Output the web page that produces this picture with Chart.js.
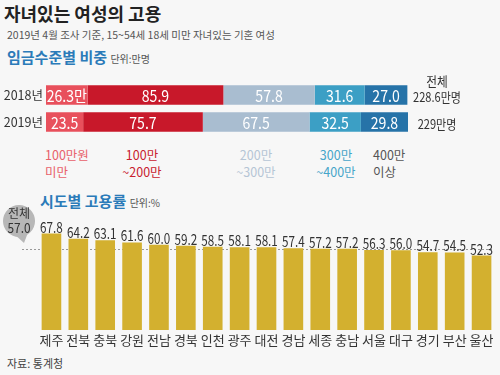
<!DOCTYPE html>
<html>
<head>
<meta charset="utf-8">
<script src="https://cdn.jsdelivr.net/npm/chart.js@4"></script>
<style>
body{margin:0;background:#f7f7f7;width:500px;height:375px;overflow:hidden;position:relative;font-family:"Noto Sans CJK KR",sans-serif;color:#333}
.t{position:absolute;white-space:nowrap;line-height:1}
.c{position:absolute;white-space:nowrap;line-height:17px;font-size:12.5px;text-align:center;transform:translateX(-50%)}
canvas{position:absolute;left:0}
</style>
</head>
<body>
<div class="t" style="left:4px;top:4px;font-size:18px;font-weight:700;color:#222">자녀있는 여성의 고용</div>
<div class="t" style="left:7px;top:30px;font-size:10.5px;color:#555">2019년 4월 조사 기준, 15~54세 18세 미만 자녀있는 기혼 여성</div>
<div class="t" style="left:7px;top:49px;font-size:15px;font-weight:700;color:#2b7bb9">임금수준별 비중 <span style="font-size:10px;font-weight:400;color:#555">단위:만명</span></div>

<div class="c" style="left:45px;top:146px;transform:none;text-align:left;color:#e8606a">100만원<br>미만</div>
<div class="c" style="left:142px;top:146px;color:#c8202e">100만<br>~200만</div>
<div class="c" style="left:256px;top:146px;color:#b5c5d5">200만<br>~300만</div>
<div class="c" style="left:336px;top:146px;color:#46a5c9">300만<br>~400만</div>
<div class="c" style="left:373px;top:146px;transform:none;text-align:left;color:#555">400만<br>이상</div>

<div class="t" style="left:40px;top:193px;font-size:15px;font-weight:700;color:#2b7bb9">시도별 고용률 <span style="font-size:10px;font-weight:400;color:#555">단위:%</span></div>
<div class="t" style="left:7px;top:358px;font-size:11px;color:#444">자료: 통계청</div>

<canvas id="wage" width="500" height="75" style="top:71px"></canvas>
<canvas id="region" width="500" height="153" style="top:202px"></canvas>

<script>
// 임금수준별 비중 (만명)
const years = ['2018년', '2019년'];
const under100 = [26.3, 23.5];
const from100to200 = [85.9, 75.7];
const from200to300 = [57.8, 67.5];
const from300to400 = [31.6, 32.5];
const over400 = [27.0, 29.8];
const totalLabels = ['228.6만명', '229만명'];

// 시도별 고용률 (%)
const regions = ['제주','전북','충북','강원','전남','경북','인천','광주','대전','경남','세종','충남','서울','대구','경기','부산','울산'];
const rates = [67.8, 64.2, 63.1, 61.6, 60.0, 59.2, 58.5, 58.1, 58.1, 57.4, 57.2, 57.2, 56.3, 56.0, 54.7, 54.5, 52.3];
const nationalRate = 57.0;

const krFont = '"Noto Sans CJK KR",sans-serif';

// narrow-looking text: squeeze horizontally
function narrowText(ctx, txt, x, y, sx) {
    ctx.save();
    ctx.translate(x, y);
    ctx.scale(sx, 1);
    ctx.fillText(txt, 0, 0);
    ctx.restore();
}

// white numbers inside segments + total on the right
const segLabels = {
    id: 'segLabels',
    afterDatasetsDraw(chart) {
        const ctx = chart.ctx;
        ctx.save();
        ctx.textAlign = 'center';
        ctx.textBaseline = 'middle';
        ctx.fillStyle = '#fff';
        ctx.font = '16px ' + krFont;
        chart.data.datasets.forEach((ds, i) => {
            chart.getDatasetMeta(i).data.forEach((bar, j) => {
                let txt = ds.data[j].toFixed(1);
                if (i === 0 && j === 0) txt += '만';
                narrowText(ctx, txt, (bar.x + bar.base) / 2, bar.y + 1, 0.88);
            });
        });
        const meta = chart.getDatasetMeta(0).data;
        ctx.fillStyle = '#333';
        ctx.font = '13px ' + krFont;
        narrowText(ctx, '전체', 437, meta[0].y - 14, 0.9);
        meta.forEach((bar, j) => narrowText(ctx, totalLabels[j], 437, bar.y + 2, 0.85));
        ctx.restore();
    }
};

new Chart(document.getElementById('wage'), {
    type: 'bar',
    data: {
        labels: years,
        datasets: [
            { label: '100만원 미만', data: under100, backgroundColor: '#e8505c' },
            { label: '100만~200만', data: from100to200, backgroundColor: '#c8182a' },
            { label: '200만~300만', data: from200to300, backgroundColor: '#a9bdd0' },
            { label: '300만~400만', data: from300to400, backgroundColor: '#3c9fc5' },
            { label: '400만 이상', data: over400, backgroundColor: '#2673a8' }
        ]
    },
    options: {
        indexAxis: 'y',
        responsive: false,
        animation: false,
        layout: { padding: { right: 92 } },
        datasets: { bar: { barPercentage: 0.72, categoryPercentage: 1 } },
        scales: {
            x: { stacked: true, min: 0, max: 229, display: false },
            y: {
                stacked: true,
                grid: { display: false, drawTicks: false },
                border: { display: false },
                ticks: { color: '#333', font: { family: krFont, size: 12.5 }, padding: 3 },
                afterFit(s) { s.width = 46; }
            }
        },
        plugins: { legend: { display: false }, tooltip: { enabled: false } }
    },
    plugins: [segLabels]
});

// dotted national average line, value labels, bubble
const rateDecor = {
    id: 'rateDecor',
    beforeDatasetsDraw(chart) {
        const ctx = chart.ctx;
        const y = Math.round(chart.scales.y.getPixelForValue(nationalRate)) + 0.5;
        ctx.save();
        ctx.strokeStyle = '#999';
        ctx.lineWidth = 1;
        ctx.setLineDash([2, 2]);
        ctx.beginPath();
        ctx.moveTo(22, y);
        ctx.lineTo(493, y);
        ctx.stroke();
        ctx.restore();
    },
    afterDatasetsDraw(chart) {
        const ctx = chart.ctx;
        ctx.save();
        ctx.fillStyle = '#333';
        ctx.font = '15px ' + krFont;
        ctx.textAlign = 'center';
        ctx.textBaseline = 'alphabetic';
        chart.getDatasetMeta(0).data.forEach((bar, i) => {
            narrowText(ctx, rates[i].toFixed(1), bar.x, bar.y - 1, 0.78);
        });
        // bubble "전체 57.0"
        const cy = 221 - chart.canvas.offsetTop;
        ctx.fillStyle = '#b7b7b7';
        ctx.beginPath();
        ctx.arc(19, cy, 16, 0, Math.PI * 2);
        ctx.fill();
        ctx.beginPath();
        ctx.moveTo(13, cy + 12);
        ctx.lineTo(29, cy + 9);
        ctx.lineTo(24, cy + 22);
        ctx.closePath();
        ctx.fill();
        ctx.fillStyle = '#333';
        ctx.textBaseline = 'middle';
        ctx.font = '12px ' + krFont;
        ctx.fillText('전체', 19, cy - 8);
        ctx.font = '14px ' + krFont;
        narrowText(ctx, nationalRate.toFixed(1), 19, cy + 7, 0.85);
        ctx.restore();
    }
};

new Chart(document.getElementById('region'), {
    type: 'bar',
    data: {
        labels: regions,
        datasets: [{ label: '고용률', data: rates, backgroundColor: '#d3b02f', barPercentage: 0.73, categoryPercentage: 1 }]
    },
    options: {
        responsive: false,
        animation: false,
        layout: { padding: { left: 38, right: 5, top: 0, bottom: 0 } },
        scales: {
            y: { min: 0, max: 90, display: false },
            x: {
                grid: { display: false, drawTicks: false },
                border: { display: false },
                ticks: { color: '#333', font: { family: krFont, size: 13 }, padding: 2, maxRotation: 0, autoSkip: false },
                afterFit(s) { s.height = 25; }
            }
        },
        plugins: { legend: { display: false }, tooltip: { enabled: false } }
    },
    plugins: [rateDecor]
});
</script>
</body>
</html>
